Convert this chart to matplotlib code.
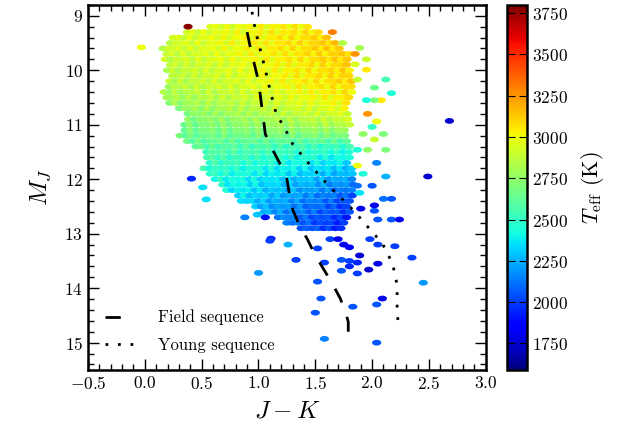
import numpy as np
import matplotlib
matplotlib.use('Agg')
import matplotlib.pyplot as plt
from matplotlib.path import Path
from matplotlib.ticker import MultipleLocator

plt.rcParams['font.family'] = 'serif'
plt.rcParams['font.serif'] = ['cmr10', 'DejaVu Serif']
plt.rcParams['mathtext.fontset'] = 'cm'
plt.rcParams['axes.formatter.use_mathtext'] = True

# Nube densa: filas en M_J con borde izquierdo/derecho y Teff a cada lado
row_mj = [9.2, 9.3, 9.4, 9.5, 9.6, 9.7, 9.8, 9.9, 10.0, 10.1, 10.2, 10.3, 10.4,
          10.5, 10.6, 10.7, 10.8, 10.9, 11.0, 11.1, 11.2, 11.3, 11.4, 11.5, 11.6,
          11.7, 11.8, 11.9, 12.0, 12.1, 12.2, 12.3, 12.4, 12.5, 12.6, 12.7, 12.8, 12.9]
row_left = [0.58, 0.35, 0.25, 0.20, 0.16, 0.17, 0.18, 0.20, 0.20, 0.22, 0.22, 0.19, 0.17,
            0.17, 0.22, 0.28, 0.38, 0.36, 0.35, 0.33, 0.31, 0.35, 0.45, 0.52, 0.55,
            0.55, 0.52, 0.55, 0.62, 0.66, 0.72, 0.80, 0.85, 0.95, 1.05, 1.15, 1.25, 1.35]
row_right = [1.45, 1.55, 1.60, 1.70, 1.75, 1.80, 1.80, 1.80, 1.80, 1.80, 1.82, 1.82, 1.82,
             1.82, 1.80, 1.80, 1.80, 1.80, 1.80, 1.80, 1.80, 1.80, 1.80, 1.80, 1.82,
             1.82, 1.82, 1.85, 1.85, 1.85, 1.85, 1.85, 1.80, 1.80, 1.80, 1.78, 1.75, 1.75]
row_teff_left = [2950, 2930, 2920, 2910, 2900, 2890, 2880, 2870, 2860, 2850, 2840, 2830, 2810,
                 2790, 2770, 2750, 2730, 2710, 2690, 2670, 2650, 2630, 2610, 2590, 2560,
                 2540, 2510, 2490, 2460, 2440, 2410, 2380, 2340, 2290, 2240, 2190, 2140, 2100]
row_teff_right = [3050, 3080, 3100, 3120, 3120, 3120, 3120, 3100, 3100, 3100, 3100, 3080, 3060,
                  3050, 3020, 2980, 2950, 2900, 2850, 2780, 2700, 2600, 2500, 2450, 2400,
                  2350, 2300, 2250, 2200, 2150, 2100, 2060, 2040, 2000, 2000, 1960, 1950, 1950]
mottle = [0, 50, -40, 20, -60, 40, -20, 70, -50, 10, -30, 50]

# Objetos sueltos (J-K, M_J, Teff)
sparse_jk = [0.38, -0.03, 1.65, 1.74, 1.89, 1.85, 1.95, 1.85, 1.95, 2.12, 1.87, 2.02, 2.17,
             2.08, 2.02, 1.95, 1.96, 2.04, 2.00, 2.10, 1.92, 2.02, 2.12, 1.96, 1.87, 2.04,
             1.87, 1.92, 2.12, 2.49, 2.68, 1.87, 2.00, 1.89, 2.10, 2.17, 2.02, 1.90, 2.02,
             2.05, 2.17, 2.24, 0.41, 0.51, 0.54, 0.88, 0.99, 1.06, 1.11, 1.00, 1.10, 1.26,
             1.52, 1.63, 1.70, 1.75, 1.80, 1.98, 2.05, 2.20, 1.33, 1.58, 1.73, 1.80, 1.87,
             1.89, 1.80, 1.73, 1.87, 1.97, 2.05, 2.35, 1.52, 2.45, 1.55, 1.83, 2.04, 2.09,
             1.50, 1.58, 2.04]
sparse_mj = [9.2, 9.58, 9.3, 9.5, 9.59, 9.7, 9.8, 9.89, 9.99, 10.17, 10.17, 10.32, 10.42,
             10.55, 10.55, 10.55, 10.8, 10.94, 11.04, 11.17, 11.17, 11.27, 11.46, 11.46, 11.46, 11.7,
             11.75, 11.9, 11.95, 11.95, 10.93, 12.12, 12.12, 12.25, 12.36, 12.36, 12.48, 12.54, 12.58,
             12.74, 12.74, 12.74, 11.99, 12.15, 12.37, 12.7, 12.65, 12.7, 13.09, 13.72, 13.13, 13.2,
             13.27, 13.1, 13.1, 13.2, 13.25, 13.1, 13.2, 13.23, 13.48, 13.53, 13.48, 13.5, 13.53,
             13.4, 13.6, 13.68, 13.73, 13.66, 13.55, 13.44, 13.88, 13.9, 14.19, 14.34, 14.3, 14.19,
             14.45, 14.93, 15.0]
sparse_teff = [3780, 3000, 3300, 2850, 2800, 3250, 2900, 2950, 3050, 2550, 2900, 2650, 2450,
               3050, 2700, 2450, 3250, 3000, 2500, 2700, 2750, 2900, 2700, 2750, 2450, 2150,
               3000, 2450, 2250, 1750, 1750, 2100, 2050, 2350, 2100, 2050, 1800, 1800, 2050,
               2050, 2050, 1800, 1950, 2350, 2350, 2150, 2300, 1900, 1950, 2200, 2000, 2250,
               2000, 2000, 1800, 1800, 1850, 2000, 2000, 2000, 2000, 2000, 2050, 2000, 1950,
               1750, 1950, 2050, 2000, 1750, 1800, 2000, 2050, 2200, 2050, 2050, 2050, 1800,
               2050, 2150, 2050]

# Secuencias
field_jk = [0.90, 0.93, 1.00, 1.06, 1.12, 1.19, 1.24, 1.25, 1.29, 1.36, 1.43, 1.50, 1.57,
            1.65, 1.72, 1.77, 1.79, 1.79]
field_mj = [9.3, 9.6, 10.2, 11.17, 11.44, 11.72, 11.88, 12.0, 12.5, 12.85, 13.1, 13.4, 13.64,
            13.92, 14.19, 14.47, 14.62, 14.8]
young_jk = [0.93, 0.95, 1.00, 1.05, 1.10, 1.16, 1.215, 1.30, 1.43, 1.56, 1.69, 1.83, 1.96,
            2.09, 2.18, 2.22, 2.22, 2.23]
young_mj = [8.7, 9.04, 9.5, 9.9, 10.35, 10.83, 11.0, 11.35, 11.68, 11.99, 12.27, 12.56, 12.87,
            13.18, 13.55, 13.94, 14.35, 14.72]

# Construir puntos de la nube
xs, ys, cs = [], [], []
k = 0
for i, mj in enumerate(row_mj):
    xl, xr = row_left[i], row_right[i]
    start = xl + (0.025 if i % 2 else 0.0)
    for x in np.arange(start, xr + 1e-6, 0.05):
        f = (x - xl) / (xr - xl)
        t = row_teff_left[i] + (row_teff_right[i] - row_teff_left[i]) * f
        xs.append(x)
        ys.append(mj)
        cs.append(t + mottle[k % len(mottle)])
        k += 3 if k % 2 else 5
xs += sparse_jk
ys += sparse_mj
cs += sparse_teff

# Marcador eliptico
theta = np.linspace(0, 2 * np.pi, 40)
ellipse = Path(np.column_stack([1.6 * np.cos(theta), np.sin(theta)]))

fig = plt.figure(figsize=(6.22, 4.43), dpi=100)
ax = fig.add_axes([0.1415, 0.165, 0.6395, 0.824])
cax = fig.add_axes([0.815, 0.165, 0.032, 0.824])

sc = ax.scatter(xs, ys, c=cs, cmap='jet', vmin=1590, vmax=3800, marker=ellipse,
                s=44, linewidths=0)

ax.plot(field_jk, field_mj, color='k', lw=2, linestyle=(0, (5.5, 5.5)), label='Field sequence')
ax.plot(young_jk, young_mj, color='k', lw=2, linestyle=(0, (1, 3.5)), label='Young sequence')

ax.set_xlim(-0.5, 3.0)
ax.set_ylim(15.5, 8.8)
ax.xaxis.set_major_locator(MultipleLocator(0.5))
ax.xaxis.set_minor_locator(MultipleLocator(0.1))
ax.yaxis.set_major_locator(MultipleLocator(1))
ax.yaxis.set_minor_locator(MultipleLocator(0.2))
ax.tick_params(which='both', direction='in', top=True, right=True, labelsize=12.5)
ax.tick_params(which='major', length=8, width=1)
ax.tick_params(which='minor', length=4, width=1)
for sp in ax.spines.values():
    sp.set_linewidth(1.8)

ax.set_xlabel('$J-K$', fontsize=18, labelpad=6)
ax.set_ylabel('$M_J$', fontsize=18, labelpad=8)

leg = ax.legend(loc='lower left', frameon=False, fontsize=12, handlelength=1.8,
                borderaxespad=0.6, handletextpad=1.4, labelspacing=0.75)

cb = fig.colorbar(sc, cax=cax, ticks=[1750, 2000, 2250, 2500, 2750, 3000, 3250, 3500, 3750])
cb.ax.tick_params(direction='in', length=6, left=True, right=True, labelsize=12.5)
cb.outline.set_linewidth(1.8)
cb.set_label(r'$T_{\rm eff}$ (K)', fontsize=16, labelpad=8)

fig.savefig('out.png', dpi=100)
